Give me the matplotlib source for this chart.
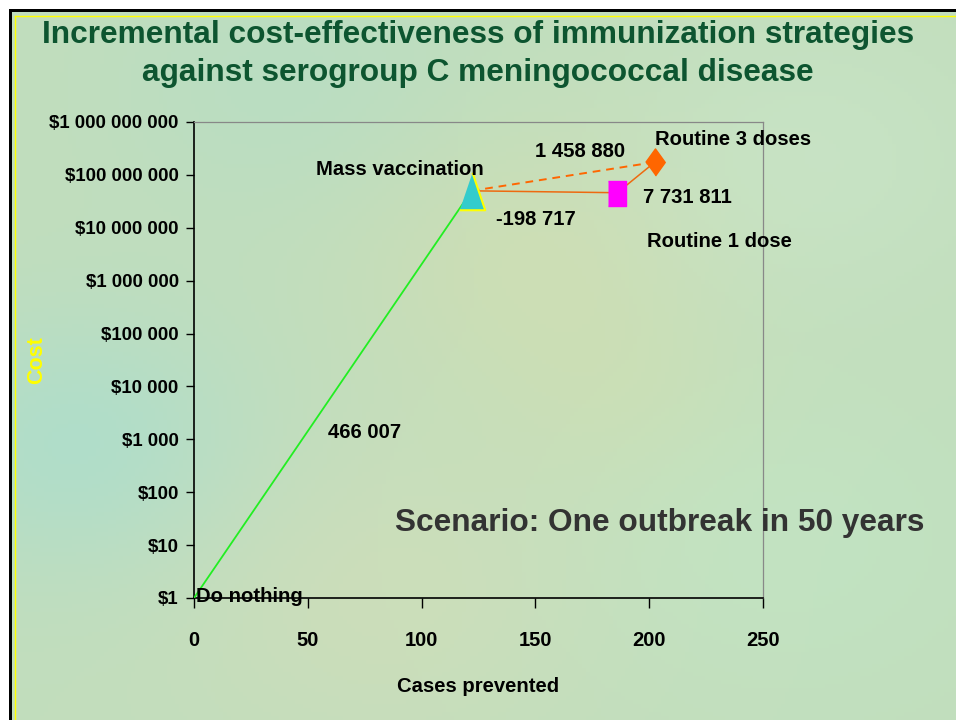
import numpy as np
import matplotlib
matplotlib.use("Agg")
import matplotlib.pyplot as plt
from matplotlib.ticker import FixedLocator, FixedFormatter

# strategies: cases prevented and total cost
names = ["Do nothing", "Mass vaccination", "Routine 1 dose", "Routine 3 doses"]
cases = [0, 122, 186, 202.5]
cost = [1, 5.0e7, 4.6e7, 1.743e8]
icer_labels = ["466 007", "-198 717", "1 458 880", "7 731 811"]

ytick_vals = [10 ** k for k in range(10)]
ytick_labels = ["$1", "$10", "$100", "$1 000", "$10 000", "$100 000",
                "$1 000 000", "$10 000 000", "$100 000 000", "$1 000 000 000"]
xtick_vals = [0, 50, 100, 150, 200, 250]

plt.rcParams['font.family'] = ['Liberation Sans', 'DejaVu Sans']

fig = plt.figure(figsize=(9.56, 7.2), dpi=100)
W, H = 956, 720

# soft mottled background
bg = fig.add_axes([0, 0, 1, 1], zorder=-10)
yy, xx = np.mgrid[0:1:180j, 0:1:240j]
img = np.ones((180, 240, 3)) * np.array([0.76, 0.87, 0.74])
blobs = [(0.55, 0.35, 0.13, [0.04, 0.00, -0.03]),
         (0.08, 0.62, 0.13, [-0.07, 0.00, 0.05]),
         (0.85, 0.22, 0.14, [0.02, 0.02, 0.03]),
         (0.40, 0.82, 0.16, [0.04, 0.00, -0.01]),
         (0.82, 0.75, 0.16, [0.00, 0.02, 0.02]),
         (0.30, 0.12, 0.14, [-0.03, 0.00, 0.02]),
         (0.65, 0.55, 0.10, [0.02, 0.00, -0.02])]
for cx, cy, s, dc in blobs:
    w = np.exp(-((xx - cx) ** 2 + (yy - cy) ** 2) / (2 * s ** 2))
    img += w[..., None] * np.array(dc)
bg.imshow(np.clip(img, 0, 1), aspect='auto', extent=[0, 1, 0, 1], origin='upper')
bg.set_xlim(0, 1)
bg.set_ylim(0, 1)
bg.axis('off')
# slide frame: white margin, black rule, yellow rule
bg.fill_between([0, 9 / W], 0, 1, color='white', lw=0)
bg.fill_between([0, 1], 1 - 9 / H, 1, color='white', lw=0)
bg.fill_between([9 / W, 12 / W], 0, 1 - 9 / H, color='black', lw=0)
bg.fill_between([9 / W, 1], 1 - 12 / H, 1 - 9 / H, color='black', lw=0)
bg.plot([15 / W, 15 / W], [0, 1 - 16 / H], color='#FFFF00', lw=1)
bg.plot([15 / W, 1], [1 - 16 / H, 1 - 16 / H], color='#FFFF00', lw=1)

ax = fig.add_axes([194 / W, 1 - 598 / H, 569 / W, 476 / H])
ax.set_facecolor('none')
ax.set_yscale('log')
ax.set_xlim(0, 250)
ax.set_ylim(1, 1e9)

# lines between strategies
ax.plot([cases[0], cases[1]], [cost[0], cost[1]], color='#22EE22', lw=1.3, zorder=3)
ax.plot([cases[1], cases[3]], [cost[1], cost[3]], color='#FF6600', lw=1.4,
        ls=(0, (4, 3)), zorder=3)
ax.plot([cases[1], cases[2], cases[3]], [cost[1], cost[2], cost[3]],
        color='#EE6A10', lw=1.1, zorder=3)

tri = [(-0.34, -0.5), (0.34, -0.5), (0, 0.5)]
sq = [(-0.36, -0.5), (0.36, -0.5), (0.36, 0.5), (-0.36, 0.5)]
dia = [(0, -0.5), (0.36, 0), (0, 0.5), (-0.36, 0)]
ax.plot(cases[1], cost[1], marker=tri, ms=27, mfc='#33CCCC', mec='#FFFF00',
        mew=1.5, ls='none', zorder=4)
ax.plot(cases[2], cost[2], marker=sq, ms=18, mfc='#FF00FF', mec='#FF00FF',
        ls='none', zorder=4)
ax.plot(cases[3], cost[3], marker=dia, ms=19.5, mfc='#FF6600', mec='#FF6600',
        ls='none', zorder=4)

lab = dict(fontsize=14.6, fontweight='bold', color='black', textcoords='offset pixels',
           va='center', zorder=5, annotation_clip=False)
ax.annotate(names[0], (cases[0], cost[0]), xytext=(2, 2), ha='left', **lab)
ax.annotate(names[1], (cases[1], cost[1]), xytext=(-72, 21), ha='center', **lab)
ax.annotate(names[2], (cases[2], cost[2]), xytext=(30, -49), ha='left', **lab)
ax.annotate(names[3], (cases[3], cost[3]), xytext=(0, 23), ha='left', **lab)
ax.annotate(icer_labels[0], (cases[0], cost[0]), xytext=(134, 166), ha='left', **lab)
ax.annotate(icer_labels[1], (cases[1], cost[1]), xytext=(24, -29), ha='left', **lab)
ax.annotate(icer_labels[2], (cases[1], cost[1]), xytext=(108, 39), ha='center', **lab)
ax.annotate(icer_labels[3], (cases[2], cost[2]), xytext=(26, -5), ha='left', **lab)

ax.yaxis.set_major_locator(FixedLocator(ytick_vals))
ax.yaxis.set_major_formatter(FixedFormatter(ytick_labels))
ax.yaxis.set_minor_locator(FixedLocator([]))
ax.set_xticks(xtick_vals)
ax.set_xticklabels([str(v) for v in xtick_vals])
ax.tick_params(axis='y', direction='out', length=6, width=1, pad=5,
               labelsize=13.4)
ax.tick_params(axis='x', direction='out', length=7, width=1, pad=17,
               labelsize=14.5)
for t in ax.get_xticklabels() + ax.get_yticklabels():
    t.set_fontweight('bold')

for s in ['left', 'bottom']:
    ax.spines[s].set_color('black')
    ax.spines[s].set_linewidth(1.2)
for s in ['top', 'right']:
    ax.spines[s].set_color('#888888')
    ax.spines[s].set_linewidth(0.9)

ax.set_xlabel("Cases prevented", fontsize=14.6, fontweight='bold', labelpad=19)
fig.text(37 / W, 1 - 360 / H, "Cost", rotation=90, fontsize=15.5, fontweight='bold',
         color='#FFFF00', ha='center', va='center')

fig.text(478 / W, 1 - 35 / H, "Incremental cost-effectiveness of immunization strategies",
         ha='center', va='center', fontsize=22.8, fontweight='bold', color='#0D5530')
fig.text(478 / W, 1 - 73 / H, "against serogroup C meningococcal disease",
         ha='center', va='center', fontsize=22.8, fontweight='bold', color='#0D5530')

fig.text(660 / W, 1 - 523 / H, "Scenario: One outbreak in 50 years",
         ha='center', va='center', fontsize=22.8, fontweight='bold', color='#333333')

fig.savefig("out.png", dpi=100)
